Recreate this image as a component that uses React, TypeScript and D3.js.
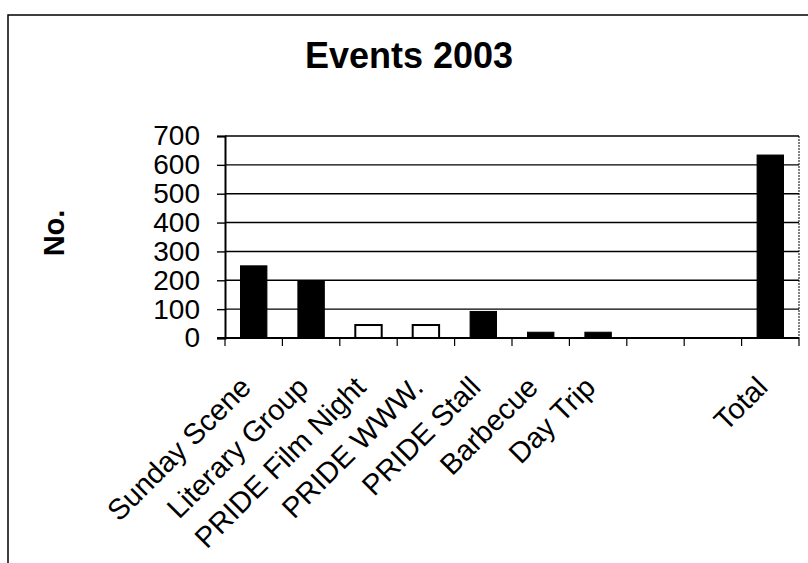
import { useEffect, useRef } from 'react';
import * as d3 from 'd3';

// data
const categories = ['Sunday Scene', 'Literary Group', 'PRIDE Film Night', 'PRIDE WWW.', 'PRIDE Stall', 'Barbecue', 'Day Trip', '', '', 'Total'];
const counts = [250, 198, 45, 45, 92, 20, 20, null, null, 634];
const hollow = [false, false, true, true, false, false, false, false, false, false];
const yTicks = [0, 100, 200, 300, 400, 500, 600, 700];

const FONT = '"Liberation Sans", Arial, Helvetica, sans-serif';

export default function App() {
  const svgRef = useRef<SVGSVGElement>(null);

  useEffect(() => {
    if (!svgRef.current) return;
    const width = 808;
    const height = 563;
    const plot = { left: 225, right: 799, top: 136, bottom: 338 };

    const svg = d3.select(svgRef.current);
    svg.selectAll('*').remove();

    svg.append('rect').attr('width', width).attr('height', height).attr('fill', '#fff');

    // outer chart frame (cropped at right and bottom)
    svg.append('path')
      .attr('d', `M8,${height} L8,15 L${width},15`)
      .attr('fill', 'none').attr('stroke', '#000').attr('stroke-width', 1.5);

    const ids = categories.map((_, i) => String(i));
    const x = d3.scaleBand().domain(ids).range([plot.left, plot.right]).padding(0);
    const y = d3.scaleLinear().domain([0, 700]).range([plot.bottom, plot.top]);

    // title
    svg.append('text')
      .attr('x', 409).attr('y', 68)
      .attr('text-anchor', 'middle')
      .style('font-family', FONT).style('font-size', '36px').style('font-weight', 'bold')
      .text('Events 2003');

    // y axis title
    svg.append('text')
      .attr('transform', `translate(64,233) rotate(-90)`)
      .attr('text-anchor', 'middle')
      .style('font-family', FONT).style('font-size', '29px').style('font-weight', 'bold')
      .text('No.');

    // gridlines
    svg.append('g')
      .selectAll('line')
      .data(yTicks.filter(d => d > 0))
      .join('line')
      .attr('x1', plot.left).attr('x2', plot.right)
      .attr('y1', d => y(d)).attr('y2', d => y(d))
      .attr('stroke', '#000').attr('stroke-width', 1.4);

    // plot area right border
    svg.append('line')
      .attr('x1', plot.right).attr('x2', plot.right)
      .attr('y1', plot.top).attr('y2', plot.bottom)
      .attr('stroke', '#000').attr('stroke-width', 1).attr('stroke-dasharray', '2,1');

    // bars
    const bw = x.bandwidth() * 0.46;
    svg.append('g')
      .selectAll('rect')
      .data(counts.map((v, i) => ({ id: ids[i], v, hollow: hollow[i] })).filter(d => d.v !== null))
      .join('rect')
      .attr('x', d => x(d.id)! + (x.bandwidth() - bw) / 2)
      .attr('y', d => y(d.v as number))
      .attr('width', bw)
      .attr('height', d => plot.bottom - y(d.v as number))
      .attr('fill', d => (d.hollow ? '#fff' : '#000'))
      .attr('stroke', '#000')
      .attr('stroke-width', d => (d.hollow ? 2 : 1));

    // y axis
    const yAxis = svg.append('g')
      .attr('transform', `translate(${plot.left},0)`)
      .call(d3.axisLeft(y).tickValues(yTicks).tickSize(8).tickPadding(17));
    yAxis.select('.domain').attr('stroke', '#000').attr('stroke-width', 2);
    yAxis.selectAll('line').attr('stroke', '#000').attr('stroke-width', 1.4);
    yAxis.selectAll('text')
      .attr('fill', '#000')
      .style('font-family', FONT).style('font-size', '28px');

    // x axis line and tick marks at band edges
    svg.append('line')
      .attr('x1', plot.left - 8).attr('x2', plot.right)
      .attr('y1', plot.bottom).attr('y2', plot.bottom)
      .attr('stroke', '#000').attr('stroke-width', 2);
    const edges = ids.map(id => x(id)!).concat([plot.right]);
    svg.append('g')
      .selectAll('line')
      .data(edges)
      .join('line')
      .attr('x1', d => d).attr('x2', d => d)
      .attr('y1', plot.bottom).attr('y2', plot.bottom + 8)
      .attr('stroke', '#000').attr('stroke-width', 1.2);

    // rotated category labels
    svg.append('g')
      .selectAll('text')
      .data(categories.map((c, i) => ({ c, id: ids[i] })))
      .join('text')
      .attr('transform', d => `translate(${x(d.id)! + x.bandwidth() / 2 - 1},${plot.bottom + 51}) rotate(-45)`)
      .attr('text-anchor', 'end')
      .style('font-family', FONT).style('font-size', '29px')
      .text(d => d.c);
  }, []);

  return (
    <svg
      ref={svgRef}
      width={808}
      height={563}
      style={{ position: 'absolute', left: 0, top: 0, display: 'block' }}
    ></svg>
  );
}
